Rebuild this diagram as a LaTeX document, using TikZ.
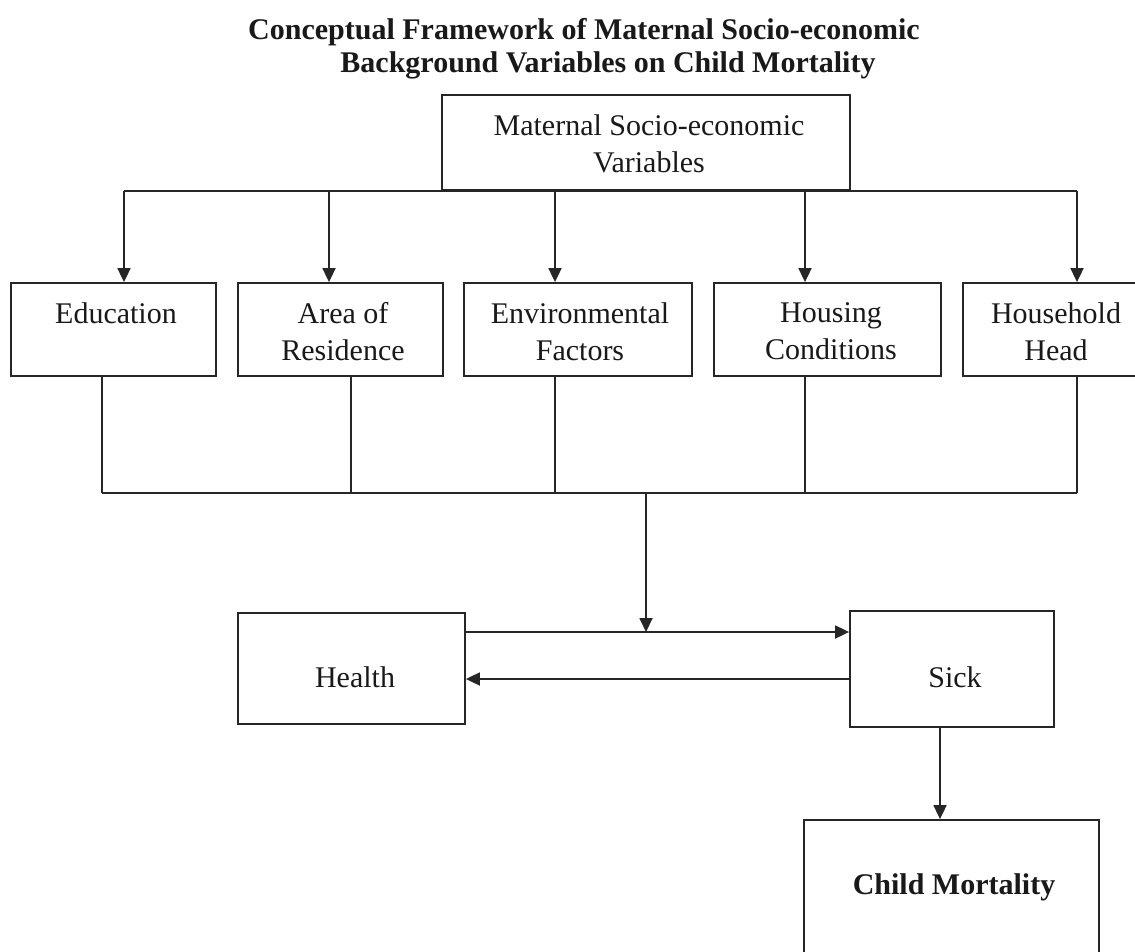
\documentclass[tikz,border=0pt]{standalone}
\usepackage{fontspec}
\setmainfont{Liberation Serif}
\usetikzlibrary{arrows.meta,calc}
\begin{document}
\begin{tikzpicture}[x=1pt,y=-1pt,
  box/.style={draw=black!85, line width=1.8pt, inner sep=0pt, anchor=center},
  txt/.style={font=\fontsize{30}{37}\selectfont, align=center, inner sep=0pt, text=black!90},
  btxt/.style={font=\fontsize{30}{37}\selectfont\bfseries, align=center, inner sep=0pt, text=black!90},
  conn/.style={draw=black!85, line width=1.8pt},
  arr/.style={conn, -{Triangle[length=14pt,width=13pt]}}]
\useasboundingbox (0,0) rectangle (1135,952);
\fill[white] (0,0) rectangle (1135,952);
% title
\node[btxt] (title1) at (584,32) {Conceptual Framework of Maternal Socio-economic};
\node[btxt] (title2) at (608,65) {Background Variables on Child Mortality};
% boxes
\node[box, minimum width=408pt, minimum height=95pt] (top) at (646,142.5) {};
\node[box, minimum width=205pt, minimum height=93pt] (edu) at (113.5,329.5) {};
\node[box, minimum width=205pt, minimum height=93pt] (area) at (340.5,329.5) {};
\node[box, minimum width=228pt, minimum height=93pt] (env) at (578,329.5) {};
\node[box, minimum width=227pt, minimum height=93pt] (hous) at (827.5,329.5) {};
\node[box, minimum width=187pt, minimum height=93pt] (head) at (1056.5,329.5) {};
\node[box, minimum width=227pt, minimum height=111pt] (health) at (351.5,668.5) {};
\node[box, minimum width=204pt, minimum height=116pt] (sick) at (952,669) {};
\node[box, minimum width=295pt, minimum height=180pt] (cm) at (951.5,910) {};
% texts
\node[txt] (toptext) at (649,143.5) {Maternal Socio-economic\\Variables};
\node[txt] (edutext) at (116,313) {Education};
\node[txt] (areatext) at (343,331.5) {Area of\\Residence};
\node[txt] (envtext) at (580,331.5) {Environmental\\Factors};
\node[txt] (houstext) at (831,331.5) {Housing\\Conditions};
\node[txt] (headtext) at (1056,331.5) {Household\\Head};
\node[txt] (healthtext) at (355,677) {Health};
\node[txt] (sicktext) at (955,677) {Sick};
\node[btxt] (cmtext) at (954,887) {Child Mortality};
% upper bus
\coordinate (u1) at (124,191);
\coordinate (u2) at (329,191);
\coordinate (u3) at (555,191);
\coordinate (u4) at (805,191);
\coordinate (u5) at (1077,191);
\draw[conn] (u1) -- (u5);
\draw[arr] (u1) -- (u1 |- edu.north);
\draw[arr] (u2) -- (u2 |- area.north);
\draw[arr] (u3 |- top.south) -- (u3 |- env.north);
\draw[arr] (u4) -- (u4 |- hous.north);
\draw[arr] (u5) -- (u5 |- head.north);
% lower bus
\coordinate (l1) at (102,493);
\coordinate (l2) at (351,493);
\coordinate (l3) at (555,493);
\coordinate (l4) at (805,493);
\coordinate (l5) at (1077,493);
\draw[conn] (l1 |- edu.south) -- (l1);
\draw[conn] (l2 |- area.south) -- (l2);
\draw[conn] (l3 |- env.south) -- (l3);
\draw[conn] (l4 |- hous.south) -- (l4);
\draw[conn] (l5 |- head.south) -- (l5);
\draw[conn] (l1) -- (l5);
% drop to health-sick line
\coordinate (d1) at (646,493);
\coordinate (r1) at (0,632);
\coordinate (r2) at (0,679);
\draw[arr] (d1) -- (d1 |- r1);
\draw[arr] (health.east |- r1) -- (sick.west |- r1);
\draw[arr] (sick.west |- r2) -- (health.east |- r2);
% sick to child mortality
\coordinate (s1) at (940,0);
\draw[arr] (s1 |- sick.south) -- (s1 |- cm.north);
\end{tikzpicture}
\end{document}
